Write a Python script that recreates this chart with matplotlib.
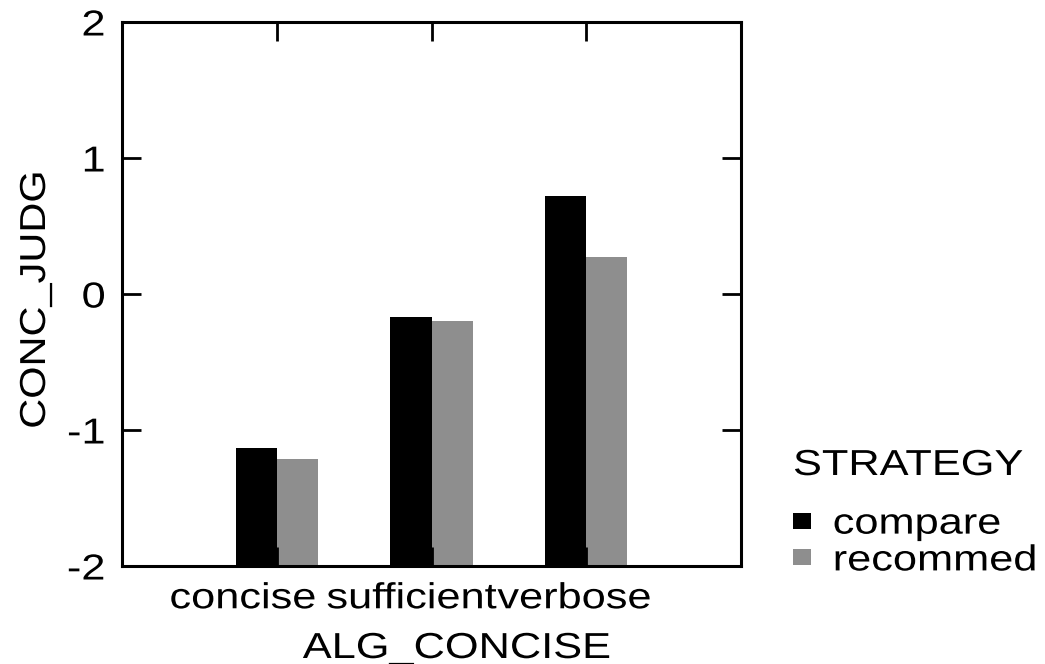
import matplotlib
matplotlib.use("Agg")
import matplotlib.pyplot as plt
from matplotlib.patches import Patch
from matplotlib.transforms import ScaledTranslation, Affine2D
from matplotlib.patheffects import AbstractPathEffect
import numpy as np

categories = ["concise", "sufficient", "verbose"]
series_names = ["compare", "recommed"]
compare_vals = [-1.13, -0.17, 0.72]
recommed_vals = [-1.21, -0.20, 0.27]
y_ticks = [-2, -1, 0, 1, 2]
colors = ["#000000", "#8e8e8e"]

plt.rcParams['font.family'] = ['Liberation Sans', 'DejaVu Sans']
FS = 26
SX = 1.2  # the reference lettering is horizontally wide


class HStretch(AbstractPathEffect):
    """Widen glyphs along the text direction around an anchor."""
    def __init__(self, sx=1.2, anchor='center'):
        super().__init__()
        self.sx = sx
        self.anchor = anchor

    def draw_path(self, renderer, gc, tpath, affine, rgbFace=None):
        ext = tpath.get_extents()
        if self.anchor == 'left':
            a = 0.0
        elif self.anchor == 'right':
            a = ext.x1
        else:
            a = (ext.x0 + ext.x1) / 2
        pre = Affine2D().translate(-a, 0).scale(self.sx, 1).translate(a, 0)
        renderer.draw_path(gc, tpath, pre + affine, rgbFace)


fig = plt.figure(figsize=(10.45, 6.64), dpi=100)
ax = fig.add_axes([122/1045, 98/664, 619/1045, 544/664])

x = np.arange(len(categories))
w = 0.265
base = -2
ax.bar(x - w/2, np.array(compare_vals) - base, width=w, bottom=base, color=colors[0], linewidth=0)
ax.bar(x + w/2, np.array(recommed_vals) - base, width=w, bottom=base, color=colors[1], linewidth=0)

ax.set_xlim(-1, 3)
ax.set_ylim(-2, 2)
ax.set_yticks(y_ticks)
ax.set_yticklabels([str(t) for t in y_ticks])
ax.set_xticks(x)
ax.set_xticklabels(categories)

for s in ax.spines.values():
    s.set_linewidth(2.2)
ax.tick_params(axis='y', direction='in', length=14, width=2, labelsize=FS, pad=12, right=True)
ax.tick_params(axis='x', direction='in', length=14, width=2, labelsize=FS, pad=11, top=True)

# crowded label placement as in the reference
offsets = [-34, -20, -12]
for lab, dx in zip(ax.get_xticklabels(), offsets):
    lab.set_transform(lab.get_transform() + ScaledTranslation(dx/100, 0, fig.dpi_scale_trans))
    lab.set_path_effects([HStretch(SX, 'center')])
for lab in ax.get_yticklabels():
    lab.set_path_effects([HStretch(SX, 'right')])

ax.set_xlabel("ALG_CONCISE", fontsize=FS)
ax.xaxis.label.set_va('baseline')
ax.xaxis.set_label_coords((457-122)/619, (566-658)/544)
ax.xaxis.label.set_path_effects([HStretch(SX, 'center')])
ax.set_ylabel("CONC_JUDG", fontsize=FS)
ax.yaxis.label.set_va('baseline')
ax.yaxis.set_label_coords((45-122)/619, 0.49)
ax.yaxis.label.set_path_effects([HStretch(1.15, 'center')])

handles = [Patch(facecolor=colors[i], edgecolor='none', label=series_names[i]) for i in range(2)]
leg = fig.legend(handles=handles, title="STRATEGY", fontsize=FS, title_fontsize=FS,
                 frameon=False, loc='upper left', bbox_to_anchor=(793/1045, 1 - 448/664),
                 handlelength=0.5, handleheight=0.3, handletextpad=0.6, labelspacing=0.05,
                 borderpad=0, borderaxespad=0)
leg._legend_box.align = "left"
leg._legend_box.sep = 17
leg.get_title().set_path_effects([HStretch(SX, 'left')])
for t in leg.get_texts():
    t.set_path_effects([HStretch(SX, 'left')])

fig.savefig("out.png", dpi=100)
